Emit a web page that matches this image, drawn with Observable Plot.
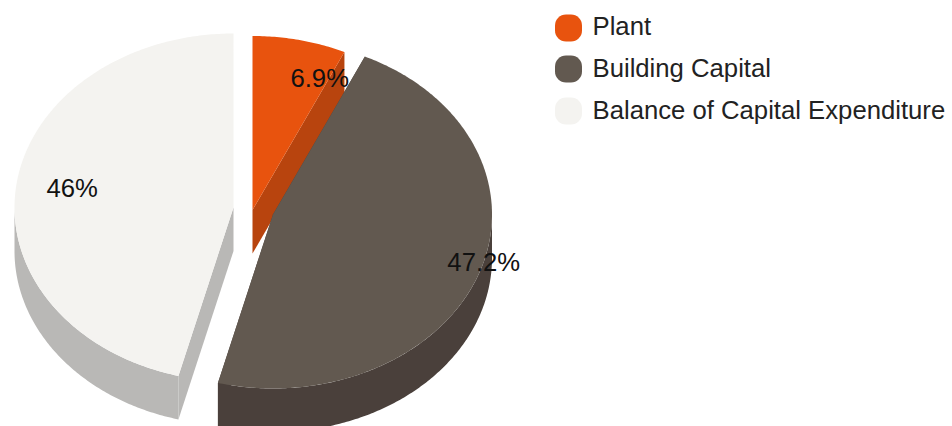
<!DOCTYPE html>
<html>
<head>
<meta charset="utf-8">
<script src="https://cdn.jsdelivr.net/npm/d3@7"></script>
<script src="https://cdn.jsdelivr.net/npm/@observablehq/plot@0.6"></script>
<style>
  html, body { margin: 0; padding: 0; background: #fff; overflow: hidden; }
  svg { display: block; }
</style>
</head>
<body>
<script>
// Capital expenditure split, in percent
const categories = ["Plant", "Building Capital", "Balance of Capital Expenditure"];
const shares = [6.9, 47.2, 46];

// Face and wall colours per category
const faceColors = ["#e8530e", "#625950", "#f4f3f0"];
const wallColors = ["#b8440e", "#4a403b", "#b9b8b6"];

// Pie drawing geometry: tilted ellipse, extrusion depth, exploded slice centres
const radiusX = 219, radiusY = 174, depth = 43.5;
const centresX = [252, 272.5, 233];
const centresY = [209.5, 214, 207];

// Label placement relative to each slice's mid-angle
const labelReach = 0.77;
const labelNudgeX = [31, 52, 6];
const labelNudgeY = [0, 3, -2];

// Legend layout
const legendRowY = [28, 69, 111];
const legendTextY = [26.5, 68.5, 110.5];
const legendSwatchX = 555, legendSwatchSize = 27, legendTextX = 592;

const total = d3.sum(shares);
let running = 0;
const slices = categories.map((name, i) => {
  const a0 = (running / total) * 2 * Math.PI;
  running += shares[i];
  const a1 = (running / total) * 2 * Math.PI;
  return {name, share: shares[i], a0, a1, cx: centresX[i], cy: centresY[i], i};
});

const rimPoint = (s, a, drop = 0) => ({
  x: s.cx + radiusX * Math.sin(a),
  y: s.cy - radiusY * Math.cos(a) + drop
});

function arcSamples(s, a0, a1, drop = 0) {
  const n = Math.max(2, Math.ceil(Math.abs(a1 - a0) * 90));
  return d3.range(n + 1).map((k) => rimPoint(s, a0 + ((a1 - a0) * k) / n, drop));
}

// Top face of a slice
const facePolygon = (s) => [{x: s.cx, y: s.cy}, ...arcSamples(s, s.a0, s.a1)]
  .map((p) => ({...p, id: `${s.name} face`, color: faceColors[s.i]}));

// Visible part of the curved outer wall (the near half of the ellipse)
function wallPolygon(s) {
  const a0 = Math.max(s.a0, Math.PI / 2);
  const a1 = Math.min(s.a1, (3 * Math.PI) / 2);
  if (a1 <= a0) return [];
  return [...arcSamples(s, a0, a1), ...arcSamples(s, a1, a0, depth)]
    .map((p) => ({...p, id: `${s.name} wall`, color: wallColors[s.i]}));
}

// Flat cut face along one radial edge of a slice
function cutPolygon(s, a) {
  const rim = rimPoint(s, a);
  return [
    {x: s.cx, y: s.cy}, rim, {x: rim.x, y: rim.y + depth}, {x: s.cx, y: s.cy + depth}
  ].map((p) => ({...p, id: `${s.name} cut ${a}`, color: wallColors[s.i]}));
}

const walls = slices.flatMap((s) => [...cutPolygon(s, s.a0), ...cutPolygon(s, s.a1), ...wallPolygon(s)]);
const faces = slices.flatMap(facePolygon);

const labels = slices.map((s) => {
  const mid = (s.a0 + s.a1) / 2;
  return {
    text: `${s.share}%`,
    x: s.cx + labelReach * radiusX * Math.sin(mid) + labelNudgeX[s.i],
    y: s.cy - labelReach * radiusY * Math.cos(mid) + labelNudgeY[s.i]
  };
});

const legend = categories.map((name, i) => ({
  name, color: faceColors[i], y: legendRowY[i], textY: legendTextY[i]
}));

const solid = (rows) => Plot.line(rows, {
  x: "x", y: "y", z: "id", fill: "color", stroke: null, curve: "linear"
});

const chart = Plot.plot({
  width: 952,
  height: 426,
  margin: 0,
  x: {domain: [0, 952], range: [0, 952], axis: null},
  y: {domain: [0, 426], range: [0, 426], axis: null},
  color: {type: "identity"},
  style: {fontFamily: "'Liberation Sans', Arial, sans-serif", background: "#fff"},
  marks: [
    // Walls go down first so the slice faces can overlap them
    solid(walls),
    solid(faces),
    Plot.text(labels, {
      x: "x", y: "y", text: "text", fontSize: 25.7, fill: "#111", textAnchor: "middle", lineAnchor: "middle"
    }),
    Plot.rect(legend, {
      x1: () => legendSwatchX,
      x2: () => legendSwatchX + legendSwatchSize,
      y1: (d) => d.y - legendSwatchSize / 2,
      y2: (d) => d.y + legendSwatchSize / 2,
      fill: "color",
      rx: 11
    }),
    Plot.text(legend, {
      x: () => legendTextX, y: "textY", text: "name", fontSize: 25.7, fill: "#222", textAnchor: "start", lineAnchor: "middle"
    })
  ]
});
document.body.append(chart);
</script>
</body>
</html>
